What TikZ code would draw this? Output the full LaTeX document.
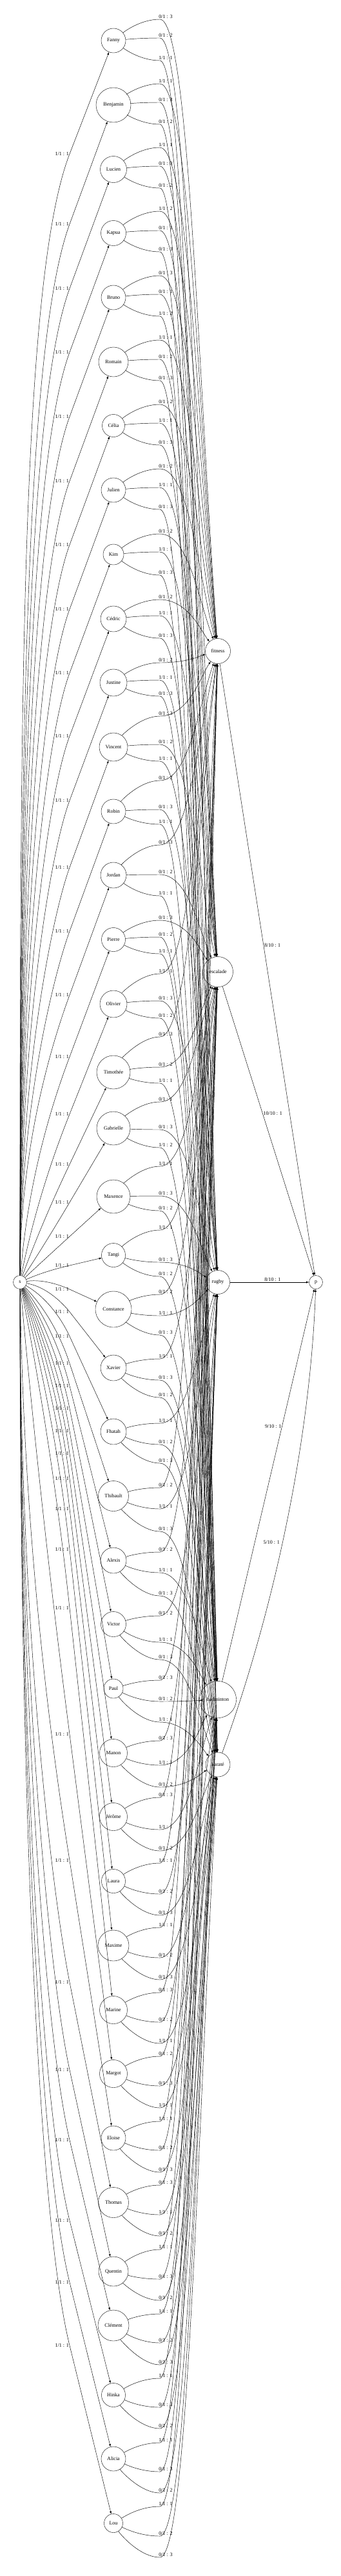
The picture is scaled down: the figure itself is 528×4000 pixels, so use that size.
\documentclass[tikz,border=0pt]{standalone}
\usepackage{fontspec}
\setmainfont{Liberation Serif}
\usetikzlibrary{calc}
\usetikzlibrary{arrows.meta}
\tikzset{
    mynode/.style = {circle, draw=black, inner sep=0pt, align=center},
    mynodea/.style = {circle, draw=black, inner sep=0pt, align=center},
    mynodes/.style = {circle, draw=black, inner sep=0pt, minimum size=21},
    edgen/.style = {-latex, line width=0.45pt},
    elabel/.style = {inner sep=1pt},
}
% person -> activity, through a point under the label
\newcommand{\prefedge}[4]{%
  \draw[edgen] let \p1=(#1), \p2=(#2),
      \n1={1.6*atan2((#3)-(\y1),248-(\x1))},
      \n2={atan2((#3)-(\y2),-70)},
      \n3={max(0.45*abs((#3)-(\y2)),25)}
    in (#1) .. controls +(\n1:22) and +(180:30) .. (248,#3)
      node[elabel,anchor=south,xshift=9pt] {#4}
      .. controls +(0:45) and +(\n2:\n3) .. (#2);
}
% s -> person, label left of the edge
\newcommand{\flowedge}[2]{%
  \draw[edgen] let \p1=(s), \p2=(#1),
      \n1={atan2((\y2)-(#2),(\x2)-108)},
      \n2={atan2((#2)-(\y1),108-(\x1))},
      \n3={max(-90,min(90,2*(\n2)-(\n1)))},
      \n4={veclen(108-(\x1),(#2)-(\y1))},
      \n5={0.5*(\n4)},
      \n6={0.12*(\n4)},
      \n7={(\n1)+180}
    in (s) .. controls +(\n3:\n5) and +(\n7:\n6) .. (108,#2)
      node[elabel,anchor=east] {1/1 : 1} -- (#1);
}

\begin{document}
\begin{tikzpicture}[x=1pt, y=1pt, font=\fontsize{8}{9.6}\selectfont]
\useasboundingbox (0,0) rectangle (528,-4000);

\node[mynodes] (s) at (31,-1991) {s};
\node[mynodes] (p) at (490,-1991) {p};

\node[mynode, minimum size=38] (Fanny) at (176,-63) {Fanny};
\node[mynode, minimum size=54] (Benjamin) at (176,-163) {Benjamin};
\node[mynode, minimum size=41] (Lucien) at (176,-263) {Lucien};
\node[mynode, minimum size=39] (Kapua) at (176,-362) {Kapua};
\node[mynode, minimum size=38] (Bruno) at (176,-462) {Bruno};
\node[mynode, minimum size=46] (Romain) at (176,-562) {Romain};
\node[mynode, minimum size=35] (Celia) at (176,-661) {Célia};
\node[mynode, minimum size=38] (Julien) at (176,-761) {Julien};
\node[mynode, minimum size=32] (Kim) at (176,-861) {Kim};
\node[mynode, minimum size=40] (Cedric) at (176,-961) {Cédric};
\node[mynode, minimum size=42] (Justine) at (176,-1060) {Justine};
\node[mynode, minimum size=44] (Vincent) at (176,-1160) {Vincent};
\node[mynode, minimum size=38] (Robin) at (176,-1260) {Robin};
\node[mynode, minimum size=40] (Jordan) at (176,-1359) {Jordan};
\node[mynode, minimum size=37] (Pierre) at (176,-1459) {Pierre};
\node[mynode, minimum size=42] (Olivier) at (176,-1559) {Olivier};
\node[mynode, minimum size=52] (Timothee) at (176,-1665) {Timothée};
\node[mynode, minimum size=52] (Gabrielle) at (176,-1752) {Gabrielle};
\node[mynode, minimum size=52] (Maxence) at (176,-1858) {Maxence};
\node[mynode, minimum size=37] (Tangi) at (176,-1949) {Tangi};
\node[mynode, minimum size=56] (Constance) at (176,-2033) {Constance};
\node[mynode, minimum size=40] (Xavier) at (176,-2124) {Xavier};
\node[mynode, minimum size=40] (Fhatah) at (176,-2223) {Fhatah};
\node[mynode, minimum size=47] (Thibault) at (176,-2323) {Thibault};
\node[mynode, minimum size=40] (Alexis) at (176,-2423) {Alexis};
\node[mynode, minimum size=39] (Victor) at (176,-2522) {Victor};
\node[mynode, minimum size=30] (Paul) at (176,-2622) {Paul};
\node[mynode, minimum size=43] (Manon) at (176,-2722) {Manon};
\node[mynode, minimum size=43] (Jerome) at (176,-2821) {Jérôme};
\node[mynode, minimum size=37] (Laura) at (176,-2921) {Laura};
\node[mynode, minimum size=48] (Maxime) at (176,-3021) {Maxime};
\node[mynode, minimum size=43] (Marine) at (176,-3121) {Marine};
\node[mynode, minimum size=43] (Margot) at (176,-3220) {Margot};
\node[mynode, minimum size=38] (Eloise) at (176,-3320) {Eloise};
\node[mynode, minimum size=47] (Thomas) at (176,-3420) {Thomas};
\node[mynode, minimum size=46] (Quentin) at (176,-3527) {Quentin};
\node[mynode, minimum size=48] (Clement) at (176,-3611) {Clément};
\node[mynode, minimum size=37] (Hinka) at (176,-3719) {Hinka};
\node[mynode, minimum size=38] (Alicia) at (176,-3818) {Alicia};
\node[mynode, minimum size=29] (Lou) at (176,-3918) {Lou};

\node[mynodea, minimum size=39] (fitness) at (338,-1011) {fitness};
\node[mynodea, minimum size=47] (escalade) at (338,-1509) {escalade};
\node[mynodea, minimum size=37] (rugby) at (338,-1991) {rugby};
\node[mynodea, minimum size=57] (badminton) at (338,-2639) {badminton};
\node[mynodea, minimum size=38] (karate) at (338,-2740) {karaté};

% source edges
\flowedge{Fanny}{-239}
\flowedge{Benjamin}{-348}
\flowedge{Lucien}{-448}
\flowedge{Kapua}{-547}
\flowedge{Bruno}{-647}
\flowedge{Romain}{-747}
\flowedge{Celia}{-846}
\flowedge{Julien}{-946}
\flowedge{Kim}{-1045}
\flowedge{Cedric}{-1143}
\flowedge{Justine}{-1243}
\flowedge{Vincent}{-1347}
\flowedge{Robin}{-1446}
\flowedge{Jordan}{-1545}
\flowedge{Pierre}{-1641}
\flowedge{Olivier}{-1730}
\flowedge{Timothee}{-1808}
\flowedge{Gabrielle}{-1867}
\flowedge{Maxence}{-1920}
\flowedge{Tangi}{-1965}
\flowedge{Constance}{-2002}
\flowedge{Xavier}{-2037}
\flowedge{Fhatah}{-2075}
\flowedge{Thibault}{-2117}
\flowedge{Alexis}{-2152}
\flowedge{Victor}{-2187}
\flowedge{Paul}{-2222}
\flowedge{Manon}{-2257}
\flowedge{Jerome}{-2296}
\flowedge{Laura}{-2343}
\flowedge{Maxime}{-2406}
\flowedge{Marine}{-2497}
\flowedge{Margot}{-2693}
\flowedge{Eloise}{-2889}
\flowedge{Thomas}{-3078}
\flowedge{Quentin}{-3214}
\flowedge{Clement}{-3323}
\flowedge{Hinka}{-3448}
\flowedge{Alicia}{-3544}
\flowedge{Lou}{-3642}

% choices
\prefedge{Fanny}{fitness}{-30}{0/1 : 3}
\prefedge{Fanny}{escalade}{-59}{0/1 : 2}
\prefedge{Fanny}{rugby}{-94}{1/1 : 1}
\prefedge{Benjamin}{fitness}{-130}{1/1 : 1}
\prefedge{Benjamin}{rugby}{-159}{0/1 : 3}
\prefedge{Benjamin}{badminton}{-193}{0/1 : 2}
\prefedge{Lucien}{fitness}{-229}{1/1 : 1}
\prefedge{Lucien}{escalade}{-258}{0/1 : 3}
\prefedge{Lucien}{badminton}{-292}{0/1 : 2}
\prefedge{Kapua}{fitness}{-328}{1/1 : 2}
\prefedge{Kapua}{escalade}{-358}{0/1 : 1}
\prefedge{Kapua}{karate}{-391}{0/1 : 3}
\prefedge{Bruno}{fitness}{-428}{0/1 : 3}
\prefedge{Bruno}{escalade}{-457}{0/1 : 1}
\prefedge{Bruno}{badminton}{-491}{1/1 : 2}
\prefedge{Romain}{fitness}{-528}{1/1 : 1}
\prefedge{Romain}{rugby}{-558}{0/1 : 2}
\prefedge{Romain}{karate}{-591}{0/1 : 3}
\prefedge{Celia}{fitness}{-628}{0/1 : 2}
\prefedge{Celia}{escalade}{-657}{1/1 : 1}
\prefedge{Celia}{rugby}{-691}{0/1 : 3}
\prefedge{Julien}{fitness}{-728}{0/1 : 2}
\prefedge{Julien}{escalade}{-757}{1/1 : 1}
\prefedge{Julien}{badminton}{-791}{0/1 : 3}
\prefedge{Kim}{fitness}{-829}{0/1 : 2}
\prefedge{Kim}{escalade}{-857}{1/1 : 1}
\prefedge{Kim}{karate}{-893}{0/1 : 3}
\prefedge{Cedric}{fitness}{-931}{0/1 : 2}
\prefedge{Cedric}{escalade}{-956}{1/1 : 1}
\prefedge{Cedric}{rugby}{-991}{0/1 : 3}
\prefedge{Justine}{fitness}{-1029}{0/1 : 2}
\prefedge{Justine}{rugby}{-1056}{1/1 : 1}
\prefedge{Justine}{badminton}{-1081}{0/1 : 3}
\prefedge{Vincent}{fitness}{-1112}{0/1 : 3}
\prefedge{Vincent}{escalade}{-1156}{0/1 : 2}
\prefedge{Vincent}{rugby}{-1182}{1/1 : 1}
\prefedge{Robin}{fitness}{-1212}{0/1 : 2}
\prefedge{Robin}{rugby}{-1257}{0/1 : 3}
\prefedge{Robin}{badminton}{-1280}{1/1 : 1}
\prefedge{Jordan}{fitness}{-1312}{0/1 : 3}
\prefedge{Jordan}{escalade}{-1358}{0/1 : 2}
\prefedge{Jordan}{badminton}{-1391}{1/1 : 1}
\prefedge{Pierre}{escalade}{-1429}{0/1 : 3}
\prefedge{Pierre}{badminton}{-1455}{0/1 : 2}
\prefedge{Pierre}{karate}{-1481}{1/1 : 1}
\prefedge{Olivier}{fitness}{-1512}{1/1 : 1}
\prefedge{Olivier}{rugby}{-1554}{0/1 : 3}
\prefedge{Olivier}{badminton}{-1581}{0/1 : 2}
\prefedge{Timothee}{fitness}{-1610}{0/1 : 3}
\prefedge{Timothee}{escalade}{-1657}{0/1 : 2}
\prefedge{Timothee}{badminton}{-1682}{1/1 : 1}
\prefedge{Gabrielle}{escalade}{-1711}{0/1 : 1}
\prefedge{Gabrielle}{rugby}{-1754}{0/1 : 3}
\prefedge{Gabrielle}{karate}{-1782}{1/1 : 2}
\prefedge{Maxence}{escalade}{-1811}{1/1 : 1}
\prefedge{Maxence}{rugby}{-1857}{0/1 : 3}
\prefedge{Maxence}{badminton}{-1880}{0/1 : 2}
\prefedge{Tangi}{escalade}{-1910}{1/1 : 1}
\prefedge{Tangi}{rugby}{-1960}{0/1 : 3}
\prefedge{Tangi}{karate}{-1982}{0/1 : 2}
\prefedge{Constance}{escalade}{-2010}{0/1 : 2}
\prefedge{Constance}{rugby}{-2043}{1/1 : 1}
\prefedge{Constance}{karate}{-2073}{0/1 : 3}
\prefedge{Xavier}{escalade}{-2110}{1/1 : 1}
\prefedge{Xavier}{badminton}{-2143}{0/1 : 3}
\prefedge{Xavier}{karate}{-2170}{0/1 : 2}
\prefedge{Fhatah}{rugby}{-2210}{1/1 : 1}
\prefedge{Fhatah}{badminton}{-2243}{0/1 : 2}
\prefedge{Fhatah}{karate}{-2272}{0/1 : 3}
\prefedge{Thibault}{fitness}{-2310}{0/1 : 2}
\prefedge{Thibault}{rugby}{-2343}{1/1 : 1}
\prefedge{Thibault}{karate}{-2378}{0/1 : 3}
\prefedge{Alexis}{escalade}{-2410}{0/1 : 2}
\prefedge{Alexis}{badminton}{-2442}{1/1 : 1}
\prefedge{Alexis}{karate}{-2478}{0/1 : 3}
\prefedge{Victor}{rugby}{-2509}{0/1 : 2}
\prefedge{Victor}{badminton}{-2550}{1/1 : 1}
\prefedge{Victor}{karate}{-2577}{0/1 : 3}
\prefedge{Paul}{escalade}{-2609}{0/1 : 3}
\prefedge{Paul}{badminton}{-2642}{0/1 : 2}
\prefedge{Paul}{karate}{-2674}{1/1 : 1}
\prefedge{Manon}{escalade}{-2703}{0/1 : 3}
\prefedge{Manon}{badminton}{-2741}{1/1 : 1}
\prefedge{Manon}{karate}{-2775}{0/1 : 2}
\prefedge{Jerome}{fitness}{-2791}{0/1 : 3}
\prefedge{Jerome}{badminton}{-2841}{1/1 : 1}
\prefedge{Jerome}{karate}{-2874}{0/1 : 2}
\prefedge{Laura}{fitness}{-2893}{1/1 : 1}
\prefedge{Laura}{rugby}{-2941}{0/1 : 2}
\prefedge{Laura}{karate}{-2974}{0/1 : 3}
\prefedge{Maxime}{escalade}{-2993}{1/1 : 1}
\prefedge{Maxime}{badminton}{-3040}{0/1 : 2}
\prefedge{Maxime}{karate}{-3074}{0/1 : 3}
\prefedge{Marine}{fitness}{-3094}{0/1 : 3}
\prefedge{Marine}{rugby}{-3140}{0/1 : 2}
\prefedge{Marine}{karate}{-3173}{1/1 : 1}
\prefedge{Margot}{escalade}{-3193}{0/1 : 2}
\prefedge{Margot}{badminton}{-3239}{0/1 : 3}
\prefedge{Margot}{karate}{-3273}{1/1 : 1}
\prefedge{Eloise}{fitness}{-3294}{1/1 : 1}
\prefedge{Eloise}{escalade}{-3339}{0/1 : 2}
\prefedge{Eloise}{badminton}{-3373}{0/1 : 3}
\prefedge{Thomas}{escalade}{-3393}{0/1 : 3}
\prefedge{Thomas}{badminton}{-3439}{1/1 : 1}
\prefedge{Thomas}{karate}{-3472}{0/1 : 2}
\prefedge{Quentin}{escalade}{-3493}{1/1 : 1}
\prefedge{Quentin}{rugby}{-3539}{0/1 : 3}
\prefedge{Quentin}{karate}{-3572}{0/1 : 2}
\prefedge{Clement}{rugby}{-3593}{1/1 : 1}
\prefedge{Clement}{badminton}{-3638}{0/1 : 2}
\prefedge{Clement}{karate}{-3672}{0/1 : 3}
\prefedge{Hinka}{fitness}{-3693}{1/1 : 1}
\prefedge{Hinka}{rugby}{-3738}{0/1 : 3}
\prefedge{Hinka}{badminton}{-3771}{0/1 : 2}
\prefedge{Alicia}{escalade}{-3793}{1/1 : 1}
\prefedge{Alicia}{rugby}{-3838}{0/1 : 3}
\prefedge{Alicia}{badminton}{-3871}{0/1 : 2}
\prefedge{Lou}{rugby}{-3892}{1/1 : 1}
\prefedge{Lou}{badminton}{-3938}{0/1 : 2}
\prefedge{Lou}{karate}{-3971}{0/1 : 3}

% sink edges
\draw[edgen] (fitness) -- node[elabel, pos=0.46, anchor=west] {8/10 : 1} (p);
\draw[edgen] (escalade) -- node[elabel, pos=0.44, anchor=west] {10/10 : 1} (p);
\draw[edgen] (rugby) -- node[elabel, pos=0.54, anchor=south] {8/10 : 1} (p);
\draw[edgen] (badminton) -- node[elabel, pos=0.65, anchor=east] {9/10 : 1} (p);
\draw[edgen] (karate) .. controls +(70:250) and +(-92:250) .. (p)
  node[elabel, anchor=east] at (435,-2395) {5/10 : 1};

\end{tikzpicture}
\end{document}
